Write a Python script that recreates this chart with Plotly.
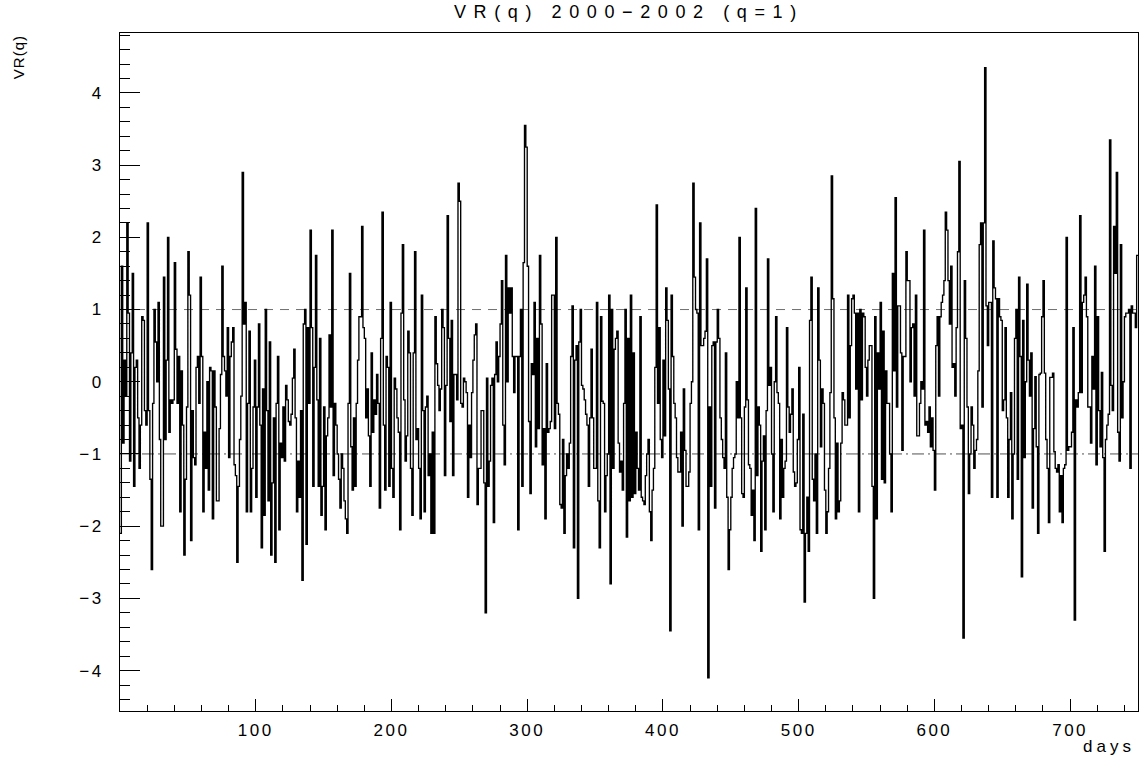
import numpy as np
import plotly.graph_objects as go

# VR(q) daily values in day segments
vr_d000 = [-2.1, 1.6, -0.85, 0.3, -0.2, 2.2, 0.95, -1.1, 0.4, 1.5, -1.45, 0.2, 0.3, -0.5, -1.2, -0.6,
           0.9, 0.85, -0.4, -0.6, 2.2, -0.4, -1.35, -2.6, -0.3, 1.0, 0.55, 0.0, 1.1, -0.8, -2.0, -2.0,
           1.45, -0.8, 0.3, 2.0, -0.7, -0.25, -0.3, -0.25, 1.65, 0.45, -0.3, 0.35, -1.8, 0.15, -0.6,
           -2.4, -1.35, -0.35, 1.8, 1.2, -2.2, -0.4, -1.05, -1.15, 0.2, 0.35, -0.3, 1.45, 0.35, -1.8]
vr_d062 = [-0.7, -1.2, 0.0, -1.5, 0.2, 0.15, -1.9, 0.15, -0.35, -1.65, -1.65, -0.65, 0.1, 1.6, 0.35,
           0.15, -0.2, 0.75, -1.05, 0.35, 0.55, 0.75, -1.15, -1.3, -2.5, -1.45, -0.8, -0.2, 2.9, 0.8,
           1.1, -1.8, -0.3, 0.7, -1.8, -1.2, -0.35, 0.3, -1.6, -0.35, 0.8, -0.6, -2.3, -0.1, -1.85,
           1.0, -0.4, -1.65, 0.55, -2.4, -1.4, -0.5, -2.5, -0.3, 0.35, -2.05, -0.85, -1.05, -0.35,
           -1.1, -0.05, -0.25, -0.55]
vr_d125 = [-0.6, -0.45, 0.05, 0.45, -0.5, -1.8, -1.1, -1.6, -0.4, -2.75, 0.8, 1.0, -2.25, 0.75, -0.3,
           2.1, 0.75, -1.45, 0.2, 1.75, -0.25, -1.45, 0.6, -1.85, -1.45, -0.35, -2.05, -0.75, -0.5,
           0.65, -0.35, 2.1, -1.3, -0.3, -0.6, -1.0, -1.35, -1.75, -1.0, -1.2, -1.65, -1.9, -2.1,
           -0.3, 1.5, -0.9, -1.5, -0.5, -1.45, -0.3, 0.3, 0.9, 0.9, 2.15, 0.75, 0.6, -0.5, -0.1,
           -0.75, -1.45, 0.4, -0.7, -0.25]
vr_d188 = [-0.45, 0.1, -0.3, -1.75, 0.6, 2.35, -0.6, -1.5, 0.35, 0.2, -1.45, 1.1, -1.2, -1.6, 0.05,
           -0.1, -0.5, -0.7, -2.05, 0.95, 1.9, -0.25, -1.1, -0.75, 0.7, 0.4, -1.2, -1.85, 0.4, 1.8,
           -0.8, -0.65, -1.2, -1.9, 1.2, -0.4, -1.8, -0.35, -0.2, -1.3, -1.0, -2.1, -0.7, -2.1, 0.9,
           0.25, -0.05, -0.4, -0.1, 1.0, 0.75, -1.3, -0.05, 2.3, 0.6, -0.55, 0.85, -1.3, 0.1, 0.1,
           -0.25, 2.75, 2.5, -0.3]
vr_d252 = [-0.35, 0.05, 0.0, -0.15, -1.6, -0.6, -1.05, -0.15, 0.3, 0.65, 0.8, -1.7, -1.2, -1.2, -0.4,
           -0.4, -1.4, -3.2, 0.05, -1.45, -1.1, -0.05, 0.05, -1.95, 0.1, 0.55, 0.0, 0.35, 0.8, 1.4,
           -0.6, -1.15, 1.75, 0.0, 1.3, 0.95, 1.3, 0.35, -0.15, 0.35, 0.35, -2.05, 0.35, 1.0, -1.45,
           1.65, 3.55, 3.25, 1.6, -0.55, -1.55, 0.25, 0.1, 1.1, -0.9, 0.6, -0.65, 1.75, 0.8, -1.15,
           -0.65, -1.9, 0.25]
vr_d315 = [-0.7, -0.65, -0.55, 1.2, 1.2, -0.65, 2.0, -0.3, -0.45, -1.7, -1.75, -0.8, -2.1, -1.3, -1.0,
           -1.2, -0.85, 0.35, 1.05, -2.3, 0.3, 0.5, -3.0, 0.55, 1.0, -0.05, -0.1, -0.25, -0.45, -0.6,
           -1.45, -0.5, 0.45, -0.5, -1.2, -1.2, 1.1, -1.65, -2.3, 0.9, -0.27, -0.3, -1.8, -1.3, -1.0,
           1.2, -2.8, 1.0, -1.2, 0.45, 0.6, 0.7, -0.85, -1.25, -1.1, -1.5, -0.3, 1.0, -2.15, 0.6,
           -1.65, 1.2, -1.6]
vr_d378 = [0.4, -1.55, -0.7, -1.2, -1.5, 0.9, -1.6, -1.65, -1.7, -1.3, -1.0, -0.8, -1.8, -2.2, -1.5,
           -1.2, 0.2, 2.45, -0.3, 0.75, -0.8, -1.05, 0.3, -0.75, 1.3, 0.85, -0.1, -3.45, 1.2, 0.35,
           -0.3, -0.5, -1.05, -1.25, -1.25, -0.7, -2.0, -0.1, -0.95, -1.45, -1.45, -1.25, -0.3, 0.0,
           2.75, 1.45, 1.0, 0.95, -2.05, 2.2, 0.5, 0.5, 0.6, 0.7, 1.7, -4.1, -0.35, -1.45, 0.5, 0.55,
           -1.75, 0.55, 1.0]
vr_d441 = [0.6, -0.5, -0.8, -1.05, -1.2, 0.4, -1.6, -2.6, -2.05, -1.6, -1.2, -1.05, -1.0, 0.0, -0.5,
           2.0, -0.5, -1.55, -1.6, -0.35, 1.3, -0.25, -1.15, -1.2, -1.85, -1.5, -2.2, 2.4, -1.3, -0.35,
           -0.6, -2.35, -1.1, -0.75, -2.05, -0.4, 1.7, -0.05, 0.2, -1.0, -1.8, 0.0, 0.9, -0.15, -0.3,
           -1.9, -0.8, -1.6, -1.2, -1.1, 0.75, -0.35, -0.7, -0.45, -0.1, -1.25, -1.45, -1.4, -0.8,
           0.2, -2.05, -2.1, -0.45]
vr_d504 = [-3.05, -2.1, -1.6, -2.35, 0.85, 1.45, -1.35, -1.65, -1.0, -2.1, 1.3, 0.3, -0.9, -0.1, -0.3,
           -1.5, -2.1, -1.8, -1.2, -0.15, 2.85, 1.15, -0.5, -1.9, -0.85, -1.8, -1.65, -0.85, -0.15,
           -0.25, -0.6, -0.6, 1.2, -0.5, 0.5, 1.15, 1.2, 0.95, -0.1, 0.95, -1.8, 1.0, -0.25, 0.95, 0.9,
           0.2, -0.2, 0.3, 0.5, 0.5, -1.45, -3.0, 0.9, -1.9, 0.4, -0.1, 1.1, -1.35, 0.7, -1.4, 0.15,
           -0.3, -0.3, -1.0, -1.8]
vr_d569 = [1.5, 0.15, 2.55, -0.35, 1.05, 1.05, 0.4, -0.95, 0.35, 0.35, 1.8, 1.4, 1.4, 0.0, 0.75, 0.8,
           -0.2, 1.2, -0.75, -0.75, -0.3, 0.0, -0.1, 2.1, -0.6, -0.55, -0.7, -0.35, -0.9, -0.5, -0.95,
           -1.5, 0.5, 0.9, -0.2, 0.9, 1.1, 1.2, 1.4, 2.35, 2.1, 1.4, 0.8, 1.6, 0.2, 0.25, -0.2, 0.75,
           1.8, 3.05, -0.65, -0.6, -3.55, 1.4, 0.6, -0.35, -1.55, -1.0, -0.35, -0.6, -1.2, -0.95, -0.8]
vr_d632 = [0.15, 1.9, 2.2, -0.35, 2.2, 4.35, 1.05, 0.5, 1.1, 1.1, -1.6, 1.95, 1.3, 1.15, -1.6, 1.15,
           0.9, 0.85, -0.4, -0.25, 0.75, -0.5, -1.6, -0.8, -0.15, -1.9, -1.0, 0.6, 1.0, -1.35, 1.45,
           0.35, -2.7, 0.85, -1.05, 0.0, 1.35, 0.3, -0.2, 0.4, -1.75, -0.65, 0.07, -0.9, -2.1, 0.1,
           0.12, 0.9, 1.4, 0.12, -0.8, -1.2, -1.95, 0.06, 0.06, 0.12, -0.97, -1.2, -1.25, -1.15, -1.8,
           -1.3]
vr_d694 = [-1.95, -1.2, -1.15, 2.0, -0.95, -0.9, -0.9, -0.7, 0.75, -3.3, -0.25, -0.35, -0.15, 2.3,
           -0.15, 1.1, 1.2, 1.45, 0.9, -0.35, -0.35, -0.85, 0.35, -0.1, 1.6, -1.15, 0.9, -0.4, -0.9,
           0.13, -1.05, -2.35, -0.8, -0.6, -0.45, 3.35, -0.05, -0.4, 2.15, 1.5, 2.9, -0.7, -1.1, 1.9,
           -0.5, 0.0, 0.9, 0.95, 0.95, 1.0, -1.2, 1.05, 0.95, 0.95, 0.75, 1.75]

upper_level = 1.0
lower_level = -1.0
x_tick_values = [100, 200, 300, 400, 500, 600, 700]
y_tick_values = [-4, -3, -2, -1, 0, 1, 2, 3, 4]
title_text = "VR(q) 2000\u22122002 (q=1)"
x_title = "days"
y_title = "VR(q)"

values = (vr_d000 + vr_d062 + vr_d125 + vr_d188 + vr_d252 + vr_d315 + vr_d378 +
          vr_d441 + vr_d504 + vr_d569 + vr_d632 + vr_d694)
n = len(values)
edges = np.arange(n + 1)
step_y = values + [values[-1]]


def spaced(text, px):
    return f'<span style="letter-spacing:{px}px">{text}</span>'


def fmt_num(v):
    return str(v) if v >= 0 else "\u2212" + str(-v)


fig = go.Figure()
fig.add_trace(go.Scatter(x=edges, y=step_y, mode="lines", line=dict(shape="hv", color="black", width=1.35),
                         hoverinfo="skip", showlegend=False))

fig.add_shape(type="line", xref="x domain", x0=0, x1=1, yref="y", y0=upper_level, y1=upper_level,
              line=dict(color="#707070", width=1, dash="9px,7px"), layer="below")
fig.add_shape(type="line", xref="x domain", x0=0, x1=1, yref="y", y0=lower_level, y1=lower_level,
              line=dict(color="#505050", width=1, dash="12px,4px,2px,4px"), layer="below")

font_family = "Liberation Sans, Arial, sans-serif"
fig.update_layout(
    width=1141, height=764,
    margin=dict(l=120, r=3, t=33, b=53),
    paper_bgcolor="white", plot_bgcolor="white",
    font=dict(family=font_family, size=17, color="black"),
    showlegend=False,
    hovermode=False,
)
fig.update_xaxes(range=[0, n], showline=True, linecolor="black", linewidth=1, mirror=True,
                 showgrid=False, zeroline=False, tickmode="array", tickvals=x_tick_values,
                 ticktext=[spaced(fmt_num(v), 2.5) for v in x_tick_values],
                 ticks="inside", ticklen=12, tickcolor="black", tickwidth=1,
                 minor=dict(ticks="inside", ticklen=6, dtick=20, tick0=0, tickcolor="black", showgrid=False),
                 ticklabelstandoff=4, tickfont=dict(size=17))
fig.update_yaxes(range=[-4.56, 4.83], showline=True, linecolor="black", linewidth=1, mirror=True,
                 showgrid=False, zeroline=False, tickmode="array", tickvals=y_tick_values,
                 ticktext=[spaced(fmt_num(v), 2.5) for v in y_tick_values],
                 ticks="inside", ticklen=20, tickcolor="black", tickwidth=1,
                 minor=dict(ticks="inside", ticklen=10, dtick=0.2, tick0=0, tickcolor="black", showgrid=False),
                 ticklabelstandoff=12, tickfont=dict(size=17))

fig.add_annotation(text=spaced(title_text, 7.6), xref="paper", yref="paper", x=0.5, y=1 + 21 / 678,
                   xanchor="center", yanchor="middle", showarrow=False, font=dict(size=18, family=font_family))
fig.add_annotation(text=spaced(y_title, 1), xref="paper", yref="paper", x=-0.1, y=1.0, xanchor="center",
                   yanchor="top", textangle=-90, showarrow=False, font=dict(size=15, family=font_family))
fig.add_annotation(text=spaced(x_title, 4), xref="paper", yref="paper", x=0.972, y=-0.052, xanchor="center",
                   yanchor="middle", showarrow=False, font=dict(size=17, family=font_family))

fig.write_html("out.html", config={"displayModeBar": False},
               post_script="document.body.style.margin='0';document.body.style.overflow='hidden';")
